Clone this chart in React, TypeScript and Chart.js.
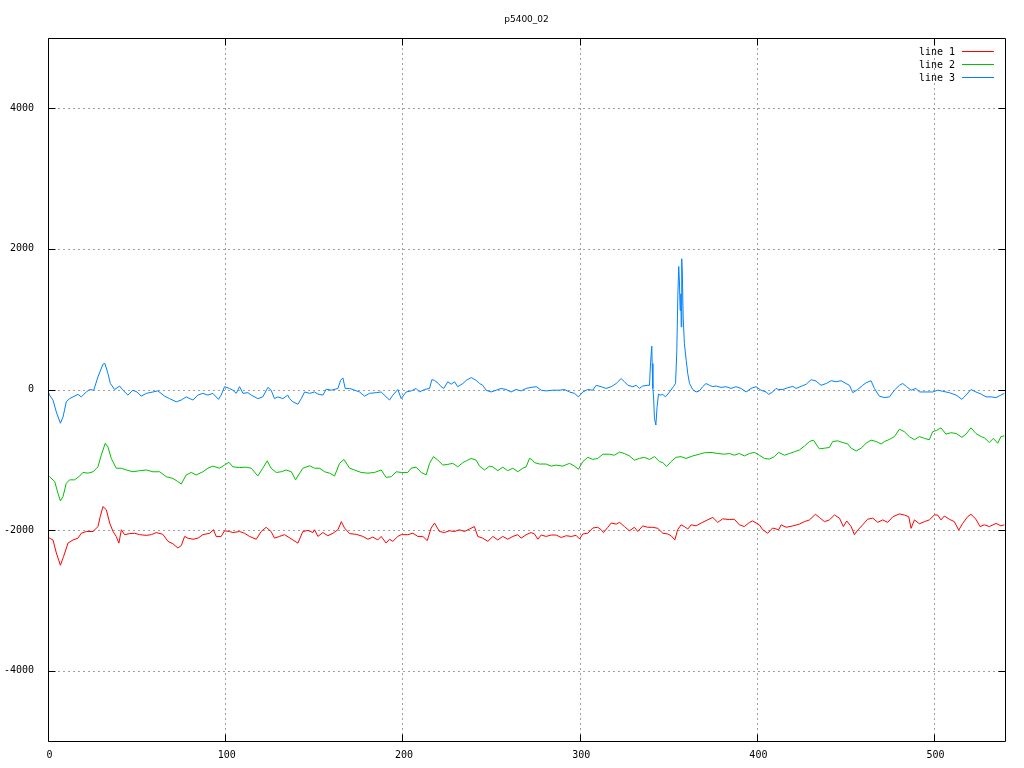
import { useEffect, useRef } from 'react';
import { Chart, registerables } from 'chart.js';

Chart.register(...registerables);

const TITLE = 'p5400_02';
const xTickValues = [0, 100, 200, 300, 400, 500];
const yTickValues = [-4000, -2000, 0, 2000, 4000];
const X_MIN = 0;
const X_MAX = 540;
const Y_MIN = -5000;
const Y_MAX = 5000;
const seriesNames = ['line 1', 'line 2', 'line 3'];
const seriesColors = ['#ff0000', '#00c000', '#0080ff'];

// line 1 (red): [x, value]
const line1: [number, number][] = [
  [0, -2100], [0.9, -2115], [2.8, -2140], [4.7, -2325], [7.0, -2500], [8.8, -2375], [11.3, -2185], [14.1, -2140],
  [16.9, -2115], [18.8, -2045], [21.6, -2020], [25.4, -2020], [28.2, -1950], [29.5, -1805], [31.0, -1665], [32.9, -1710],
  [34.8, -1900], [36.7, -2020], [38.5, -2090], [40.0, -2185], [41.4, -1995], [43.2, -2065], [46.1, -2050], [48.9, -2045],
  [51.7, -2065], [55.5, -2075], [58.3, -2065], [61.1, -2035], [64.8, -2060], [67.7, -2160], [70.5, -2195], [73.3, -2255],
  [75.2, -2220], [77.1, -2090], [78.9, -2115], [81.8, -2130], [84.6, -2115], [87.4, -2065], [91.2, -2045], [93.4, -1995],
  [94.9, -2090], [97.7, -2090], [99.6, -2010], [102.4, -2020], [104.3, -2035], [108.1, -2020], [110.9, -2045], [113.7, -2090],
  [117.5, -2130], [120.3, -2020], [123.1, -1960], [125.9, -2020], [127.8, -2115], [130.6, -2090], [133.5, -2065],
  [138.2, -2140], [141.0, -2185], [143.8, -2020], [146.7, -2005], [149.5, -2035], [150.4, -1995], [152.3, -2090], [155.1, -2035],
  [157.9, -2080], [160.8, -2045], [163.6, -1995], [165.5, -1880], [167.3, -1970], [170.2, -2050], [173.9, -2060], [177.7, -2090],
  [180.5, -2130], [183.3, -2100], [186.1, -2140], [188.0, -2090], [190.8, -2185], [192.7, -2130], [194.6, -2160], [197.4, -2090],
  [199.3, -2065], [203.0, -2065], [205.9, -2045], [208.7, -2090], [211.5, -2090], [214.0, -2150], [216.2, -1970], [218.1, -1900],
  [220.9, -2020], [223.7, -2035], [226.5, -2010], [229.4, -2020], [232.2, -1995], [235.0, -2020], [237.8, -1985], [240.6, -1950],
  [242.5, -2090], [245.3, -2115], [248.2, -2160], [251.0, -2090], [253.8, -2140], [256.6, -2090], [259.4, -2130], [262.3, -2090],
  [265.1, -2065], [267.0, -2115], [269.8, -2065], [272.6, -2035],
  [274.5, -2055], [276.4, -2130], [278.3, -2070], [281.1, -2090], [283.9, -2070], [286.7, -2070], [289.6, -2105], [292.4, -2080],
  [295.2, -2090], [298.0, -2075], [299.9, -2125], [301.8, -2055], [304.6, -2045], [307.4, -1970], [310.2, -1960], [312.1, -1995],
  [313.4, -2035], [315.9, -1960], [317.8, -1900], [320.6, -1915], [322.5, -1890], [325.3, -1950], [328.1, -2010], [330.9, -1960],
  [332.8, -2020], [335.6, -1940], [338.4, -1960], [341.3, -1960], [344.1, -1975], [346.9, -2045], [349.7, -2055], [351.6, -2080],
  [353.7, -2140], [355.3, -1995], [357.2, -1925], [359.1, -1950], [361.0, -1985], [362.9, -1925], [365.7, -1940], [368.5, -1900],
  [371.3, -1865], [375.1, -1820], [377.9, -1890], [380.7, -1840], [384.5, -1850], [387.3, -1845], [390.1, -1925], [392.9, -1950],
  [395.8, -1890], [397.6, -1870], [401.4, -1925], [403.3, -1995], [406.1, -2045], [408.9, -1970], [412.3, -1995],
  [413.7, -1925], [416.5, -1960], [420.3, -1940], [424.0, -1915], [426.8, -1880], [429.7, -1855], [433.0, -1775], [435.3, -1820],
  [438.1, -1880], [440.9, -1855], [443.8, -1785], [446.6, -1830], [448.8, -1950], [450.7, -1870], [453.2, -1950], [455.0, -2065],
  [456.9, -2000], [459.7, -1925], [462.5, -1845], [465.4, -1830], [468.2, -1890], [471.0, -1855], [473.8, -1890], [476.7, -1810],
  [480.4, -1770], [483.2, -1785], [485.7, -1810], [487.0, -1975], [488.9, -1855], [491.7, -1910], [494.5, -1880], [497.3, -1855],
  [500.1, -1785], [502.0, -1785], [503.9, -1855], [505.8, -1800], [508.6, -1845], [511.4, -1880], [513.9, -2000], [516.1, -1905],
  [518.9, -1810], [520.8, -1775], [523.6, -1845], [525.9, -1950], [528.3, -1925], [531.2, -1950], [534.9, -1905], [537.7, -1940],
  [539.6, -1925],
];

// line 2 (green): [x, value]
const line2: [number, number][] = [
  [0, -1230], [0.9, -1240], [3.8, -1310], [5.6, -1475], [7.0, -1585], [8.5, -1520], [10.3, -1335], [12.2, -1285],
  [15.0, -1285], [17.9, -1230], [19.7, -1180], [22.6, -1190], [25.4, -1170], [28.2, -1100], [30.1, -930], [32.3, -765],
  [33.8, -815], [35.7, -980], [38.5, -1120], [41.4, -1120], [44.2, -1145], [47.9, -1170], [51.7, -1155], [55.5, -1145],
  [59.2, -1170], [63.0, -1170], [66.7, -1240], [70.5, -1265], [73.3, -1310], [75.2, -1345], [78.0, -1215], [80.8, -1180],
  [83.6, -1215], [87.4, -1170], [90.2, -1120], [93.0, -1090], [96.8, -1120], [99.6, -1075], [102.1, -1035], [104.3, -1100],
  [108.1, -1110], [111.8, -1105], [114.7, -1120], [118.4, -1230], [121.2, -1120], [123.7, -1015], [125.9, -1120], [128.8, -1180],
  [131.6, -1170], [134.4, -1145],
  [137.3, -1170], [139.7, -1285], [142.0, -1190], [143.8, -1120], [147.6, -1085], [150.4, -1120], [153.2, -1120], [156.1, -1170],
  [158.9, -1190], [161.7, -1230], [164.5, -1050], [167.0, -995], [170.2, -1120], [173.0, -1145], [176.7, -1180], [180.5, -1190],
  [184.2, -1180], [188.0, -1145], [190.8, -1250], [193.7, -1240], [196.5, -1170], [199.3, -1180], [203.0, -1180], [204.9, -1120],
  [207.7, -1105], [210.6, -1180], [213.4, -1215], [215.3, -1050], [217.5, -955], [220.0, -1005], [222.8, -1075], [225.6, -1065],
  [228.4, -1050], [231.2, -1100], [234.1, -1040], [236.0, -1015], [238.8, -980], [241.6, -1005], [243.5, -1090], [246.3, -1145],
  [249.1, -1090], [251.0, -1100], [253.8, -1155], [256.6, -1105], [259.4, -1155], [262.3, -1120], [265.1, -1170], [267.9, -1120],
  [269.8, -1100], [271.7, -980], [273.0, -995],
  [274.5, -1040], [277.3, -1060], [281.1, -1060], [283.9, -1090], [286.7, -1075], [290.5, -1090], [294.3, -1050], [297.1, -1090],
  [299.3, -1135], [301.8, -1025], [304.6, -965], [307.4, -995], [310.2, -980], [313.1, -920], [316.8, -920], [319.6, -935],
  [322.5, -890], [325.3, -910], [328.1, -945], [330.9, -1005], [333.7, -980], [336.6, -965], [339.4, -995], [342.2, -955],
  [345.0, -1025], [346.9, -1040], [349.1, -1095], [351.6, -1025], [354.4, -965], [357.2, -955], [360.0, -980], [363.8, -945],
  [367.6, -920], [370.4, -900], [374.1, -895], [377.9, -910], [381.7, -920], [384.5, -910], [387.3, -935], [390.1, -910],
  [392.9, -945], [395.8, -910], [398.6, -895], [401.4, -935], [404.2, -980], [407.0, -990], [409.9, -955], [412.3, -895],
  [415.6, -935], [418.4, -910], [421.2, -885], [424.0, -860], [426.8, -805], [429.7, -740], [431.9, -720], [434.4, -815],
  [435.3, -845], [438.1, -835], [440.9, -825], [442.8, -740], [445.6, -730], [448.5, -755], [451.3, -775], [453.2, -835],
  [456.0, -875], [458.8, -835], [461.6, -765], [464.4, -720], [467.3, -740], [470.1, -775], [472.0, -740], [474.8, -710],
  [477.6, -670], [480.4, -565], [483.2, -600], [486.0, -670], [488.9, -715], [491.7, -670], [494.5, -695], [497.3, -715],
  [499.2, -600], [501.5, -580], [503.9, -545], [506.7, -635], [509.5, -615], [512.4, -625], [515.7, -680], [518.0, -635],
  [520.8, -545], [523.6, -625], [526.5, -670], [528.3, -685], [531.2, -755], [533.4, -695], [535.9, -765], [537.7, -670],
  [539.6, -660],
];

// line 3 (blue): [x, value]
const line3: [number, number][] = [
  [0, -30], [0.9, -80], [2.8, -150], [4.7, -320], [7.0, -480], [8.5, -390], [10.3, -175], [12.2, -130],
  [14.1, -105], [16.9, -70], [18.8, -105], [21.6, -35], [23.5, 0], [25.8, -10], [28.2, 180], [31.0, 360],
  [32.1, 370], [33.8, 230], [35.2, 85], [37.6, 0], [40.4, 50], [42.3, -10], [45.1, -80], [47.9, -10],
  [50.2, -35], [52.6, -95], [55.5, -55], [59.2, -35], [62.0, -20], [65.8, -95], [68.6, -130], [72.4, -175],
  [75.2, -150], [78.0, -105], [81.8, -150], [84.6, -80], [87.4, -55], [90.2, -80], [93.0, -55], [96.2, -140],
  [97.7, -80], [99.6, 40], [102.4, 15], [104.3, -10], [106.2, -55], [108.1, 40], [110.0, -55], [112.8, -45],
  [114.7, -80], [118.4, -130], [121.2, -105], [124.1, 30], [125.9, -10], [127.8, -130], [129.7, -105], [132.5, -130],
  [135.3, -80],
  [136.3, -130], [138.2, -175], [141.0, -210], [142.9, -130], [144.8, -35], [147.6, -55], [150.4, -35], [152.3, -65],
  [155.1, -80], [157.0, 5], [159.8, -10], [163.6, 15], [165.1, 130], [166.4, 165], [167.7, 15], [170.2, 15],
  [173.0, -10], [175.8, -35], [178.6, -95], [181.4, -55], [185.2, -45], [188.0, -35], [190.8, -105], [192.7, -150],
  [194.6, -80], [197.4, 0], [199.3, -130], [202.1, -35], [205.0, -20], [207.7, 15], [209.6, -35], [212.4, 0],
  [215.3, 15], [216.6, 140], [218.1, 130], [220.3, 85], [221.8, 40], [223.3, 15], [225.6, 110], [227.5, 75],
  [229.4, 110], [231.2, 40], [234.1, 85], [236.0, 130], [238.8, 170], [241.6, 130], [243.5, 85], [245.3, 60],
  [247.2, -10], [250.0, -35], [252.9, -10], [255.7, 15], [258.5, 0], [261.3, -35], [264.1, 0], [267.0, -20],
  [269.8, 15], [272.6, 30],
  [275.5, 40], [278.3, -10], [281.1, -20], [284.9, -10], [288.6, -10], [291.4, 0], [294.3, -35], [297.1, -55],
  [299.3, -105], [301.8, -35], [304.6, 0], [307.4, -10], [309.3, 60], [312.1, 40], [314.9, 15], [317.8, 40],
  [320.6, 85], [323.4, 155], [325.3, 110], [327.2, 60], [330.0, 40], [331.9, 60], [333.7, 15], [335.6, 50],
  [338.4, 60], [339.4, 60], [340.0, 380], [340.7, 615], [340.9, 370], [341.3, 15], [341.7, -105], [342.2, -410],
  [343.0, -505], [343.7, -245], [344.5, -65], [345.4, -80], [346.9, -70], [348.4, -105], [350.7, -35], [352.9, 40],
  [354.1, 85], [354.8, 535], [355.4, 1340], [355.9, 1750], [356.3, 1530], [356.7, 1125], [357.1, 1360], [357.3, 890],
  [357.6, 1860], [358.0, 1575], [358.4, 1030], [359.1, 650], [360.1, 415], [361.0, 225], [362.0, 85], [363.8, 0],
  [365.7, -35], [367.6, -20], [369.4, 40], [371.3, 85], [373.2, 60], [375.1, 40],
  [377.0, 50], [379.8, 30], [382.6, 40], [385.4, 15], [388.2, 40], [391.1, 15], [393.9, -35], [396.7, 15],
  [399.5, 40], [402.3, -10], [405.2, -35], [406.7, -70], [408.9, -35], [410.8, 15], [412.3, 0],
  [414.6, 0], [417.4, 25], [420.3, 45], [422.1, 15], [425.0, 45], [427.8, 75], [430.6, 140], [433.4, 120],
  [436.2, 60], [439.1, 85], [441.9, 125], [444.7, 110], [447.5, 125], [450.3, 85], [452.2, 60], [454.1, -45],
  [456.9, 0], [459.7, 60], [461.6, 95], [464.4, 125], [466.3, 15], [469.1, -95], [471.9, -115], [474.8, -105],
  [477.6, -10], [480.4, 60], [482.3, 85], [484.5, 40], [487.0, -10], [489.8, 15], [491.7, -35], [495.4, -35],
  [499.2, -35], [502.0, -10], [504.8, -25], [508.6, -45], [512.4, -80], [515.7, -140], [518.0, -80], [520.8, 0],
  [523.6, -35], [526.5, -65], [529.3, -105], [532.1, -105], [534.9, -115], [537.7, -80], [539.6, -55],
];

const seriesData = [line1, line2, line3];

const MONO = '"DejaVu Sans Mono", "Liberation Mono", monospace';
const SANS = '"DejaVu Sans", "Liberation Sans", sans-serif';

const framePlugin = {
  id: 'gnuFrame',
  beforeDatasetsDraw(chart: any) {
    const { ctx, chartArea: a, scales } = chart;
    const xs = scales.x;
    const ys = scales.y;
    ctx.save();
    ctx.strokeStyle = '#a0a0a0';
    ctx.lineWidth = 1;
    ctx.setLineDash([2, 3]);
    ctx.beginPath();
    xTickValues.forEach((v) => {
      const px = Math.round(xs.getPixelForValue(v)) + 0.5;
      if (px <= a.left + 1 || px >= a.right - 1) return;
      ctx.moveTo(px, a.top);
      ctx.lineTo(px, a.bottom);
    });
    yTickValues.forEach((v) => {
      const py = Math.round(ys.getPixelForValue(v)) + 0.5;
      if (py <= a.top + 1 || py >= a.bottom - 1) return;
      ctx.moveTo(a.left, py);
      ctx.lineTo(a.right, py);
    });
    ctx.stroke();
    ctx.restore();
  },
  afterDatasetsDraw(chart: any) {
    const { ctx, chartArea: a, scales } = chart;
    const xs = scales.x;
    const ys = scales.y;
    const L = Math.round(a.left) + 0.5;
    const R = Math.round(a.right) + 0.5;
    const T = Math.round(a.top) + 0.5;
    const B = Math.round(a.bottom) + 0.5;
    ctx.save();
    ctx.setLineDash([]);
    ctx.strokeStyle = '#000000';
    ctx.lineWidth = 1;
    ctx.beginPath();
    ctx.rect(L, T, R - L, B - T);
    const tl = 7;
    xTickValues.forEach((v) => {
      const px = Math.round(xs.getPixelForValue(v)) + 0.5;
      ctx.moveTo(px, B);
      ctx.lineTo(px, B - tl);
      ctx.moveTo(px, T);
      ctx.lineTo(px, T + tl);
    });
    yTickValues.forEach((v) => {
      const py = Math.round(ys.getPixelForValue(v)) + 0.5;
      ctx.moveTo(L, py);
      ctx.lineTo(L + tl, py);
      ctx.moveTo(R, py);
      ctx.lineTo(R - tl, py);
    });
    ctx.stroke();

    // x tick labels (placed from the x scale)
    ctx.fillStyle = '#000000';
    ctx.font = `10px ${MONO}`;
    ctx.textAlign = 'center';
    ctx.textBaseline = 'middle';
    xTickValues.forEach((v) => {
      ctx.fillText(String(v), xs.getPixelForValue(v) + 1.5, a.bottom + 14);
    });

    // title
    ctx.font = `9px ${SANS}`;
    ctx.textAlign = 'center';
    ctx.textBaseline = 'middle';
    ctx.fillText(TITLE, (a.left + a.right) / 2, 20);

    // legend
    ctx.font = `10px ${MONO}`;
    ctx.textAlign = 'right';
    const textRight = a.right - 50;
    const lineStart = a.right - 43;
    const lineEnd = a.right - 11;
    seriesNames.forEach((name, i) => {
      const yRow = a.top + 13.5 + i * 13;
      ctx.fillStyle = '#000000';
      ctx.fillText(name, textRight, yRow + 0.5);
      ctx.strokeStyle = seriesColors[i];
      ctx.beginPath();
      ctx.moveTo(lineStart, Math.floor(yRow) + 0.5);
      ctx.lineTo(lineEnd, Math.floor(yRow) + 0.5);
      ctx.stroke();
    });
    ctx.restore();
  },
};

export default function App() {
  const canvasRef = useRef<HTMLCanvasElement | null>(null);

  useEffect(() => {
    document.body.style.margin = '0';
    const canvas = canvasRef.current;
    if (!canvas) return;
    const chart = new Chart(canvas, {
      type: 'line',
      data: {
        datasets: seriesData.map((s, i) => ({
          label: seriesNames[i],
          data: s.map(([x, y]) => ({ x, y })),
          borderColor: seriesColors[i],
          backgroundColor: seriesColors[i],
          borderWidth: 1,
          pointRadius: 0,
          tension: 0,
          fill: false,
        })),
      },
      options: {
        responsive: false,
        animation: false,
        events: [],
        layout: { padding: { top: 38, right: 19, bottom: 0, left: 0 } },
        plugins: {
          legend: { display: false },
          title: { display: false },
          tooltip: { enabled: false },
        },
        scales: {
          x: {
            type: 'linear',
            min: X_MIN,
            max: X_MAX,
            grid: { display: false },
            border: { display: false },
            afterBuildTicks: (s: any) => {
              s.ticks = xTickValues.map((v) => ({ value: v }));
            },
            afterFit: (s: any) => {
              s.height = 27;
            },
            ticks: { display: false },
          },
          y: {
            type: 'linear',
            min: Y_MIN,
            max: Y_MAX,
            grid: { display: false },
            border: { display: false },
            afterBuildTicks: (s: any) => {
              s.ticks = yTickValues.map((v) => ({ value: v }));
            },
            afterFit: (s: any) => {
              s.width = 48;
            },
            ticks: {
              autoSkip: false,
              padding: 6,
              color: '#000000',
              font: { family: MONO, size: 10 },
              callback: (v: any) => String(v),
            },
          },
        },
      } as any,
      plugins: [framePlugin],
    });
    return () => chart.destroy();
  }, []);

  return (
    <div style={{ width: 1024, height: 768, background: '#ffffff' }}>
      <canvas ref={canvasRef} width={1024} height={768} style={{ display: 'block' }} />
    </div>
  );
}
